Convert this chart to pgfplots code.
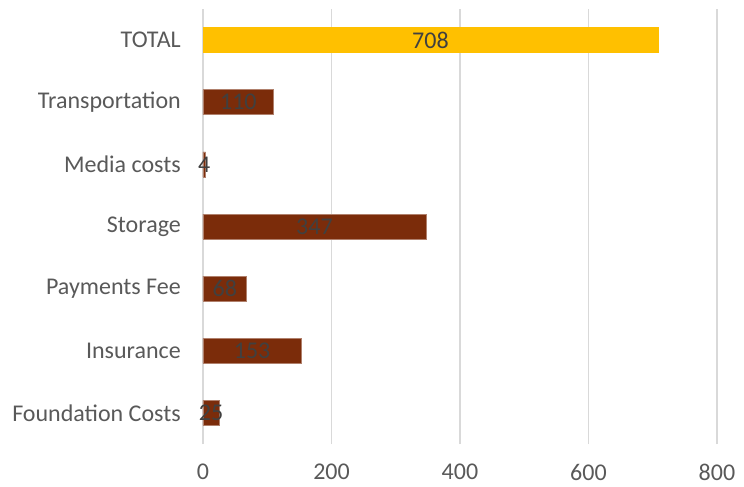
\documentclass[border=0pt]{standalone}
\usepackage{pgfplots}
\usepackage{pgfplotstable}
\usepackage{fontspec}
\setmainfont{Carlito}
\pgfplotsset{compat=1.18}
\definecolor{barbrown}{HTML}{7B2C0A}
\definecolor{gold}{HTML}{FFC000}
\definecolor{txt}{HTML}{595959}
\definecolor{lbl}{HTML}{404040}
\definecolor{gridc}{HTML}{D9D9D9}
\pgfplotstableread{
y v
0 25
1 153
2 68
3 347
4 4
5 110
}\costs
\pgfplotstableread{
y v
6 708
}\total
\begin{document}
\fontsize{24}{28}\selectfont
\begin{tikzpicture}
\useasboundingbox (-203pt,-43pt) rectangle (541pt,444pt);
\begin{axis}[
  at={(0,0)}, anchor=south west,
  scale only axis, width=514pt, height=435pt,
  xmin=0, xmax=800, ymin=-0.5, ymax=6.5,
  xtick={0,200,400,600,800},
  ytick={0,1,2,3,4,5,6},
  yticklabels={Foundation Costs,Insurance,Payments Fee,Storage,Media costs,Transportation,TOTAL},
  axis line style={draw=none},
  major tick length=0pt,
  xmajorgrids, grid style={gridc, line width=1.5pt},
  ticklabel style={font=\fontsize{24}{28}\selectfont, text=txt},
  /pgf/number format/assume math mode=true,
  yticklabel style={xshift=-14pt},
  xticklabel style={yshift=-12pt},
  xbar, bar width=25pt, bar shift=0pt,
  clip=false,
]
\addplot[fill=barbrown, draw=barbrown!60!white, line width=0.6pt] table[x=v, y=y] {\costs};
\addplot[fill=gold, draw=gold, line width=0.6pt] table[x=v, y=y] {\total};
\addplot[draw=none, mark=none, xbar=false, nodes near coords, point meta=explicit symbolic,
  every node near coord/.append style={anchor=center, text=lbl, font=\fontsize{24}{28}\selectfont}]
  table[x expr=\thisrow{v}/2, y=y, meta=v] {\costs};
\addplot[draw=none, mark=none, xbar=false, nodes near coords, point meta=explicit symbolic,
  every node near coord/.append style={anchor=center, text=lbl, font=\fontsize{24}{28}\selectfont}]
  table[x expr=\thisrow{v}/2, y=y, meta=v] {\total};
\end{axis}
\end{tikzpicture}
\end{document}
